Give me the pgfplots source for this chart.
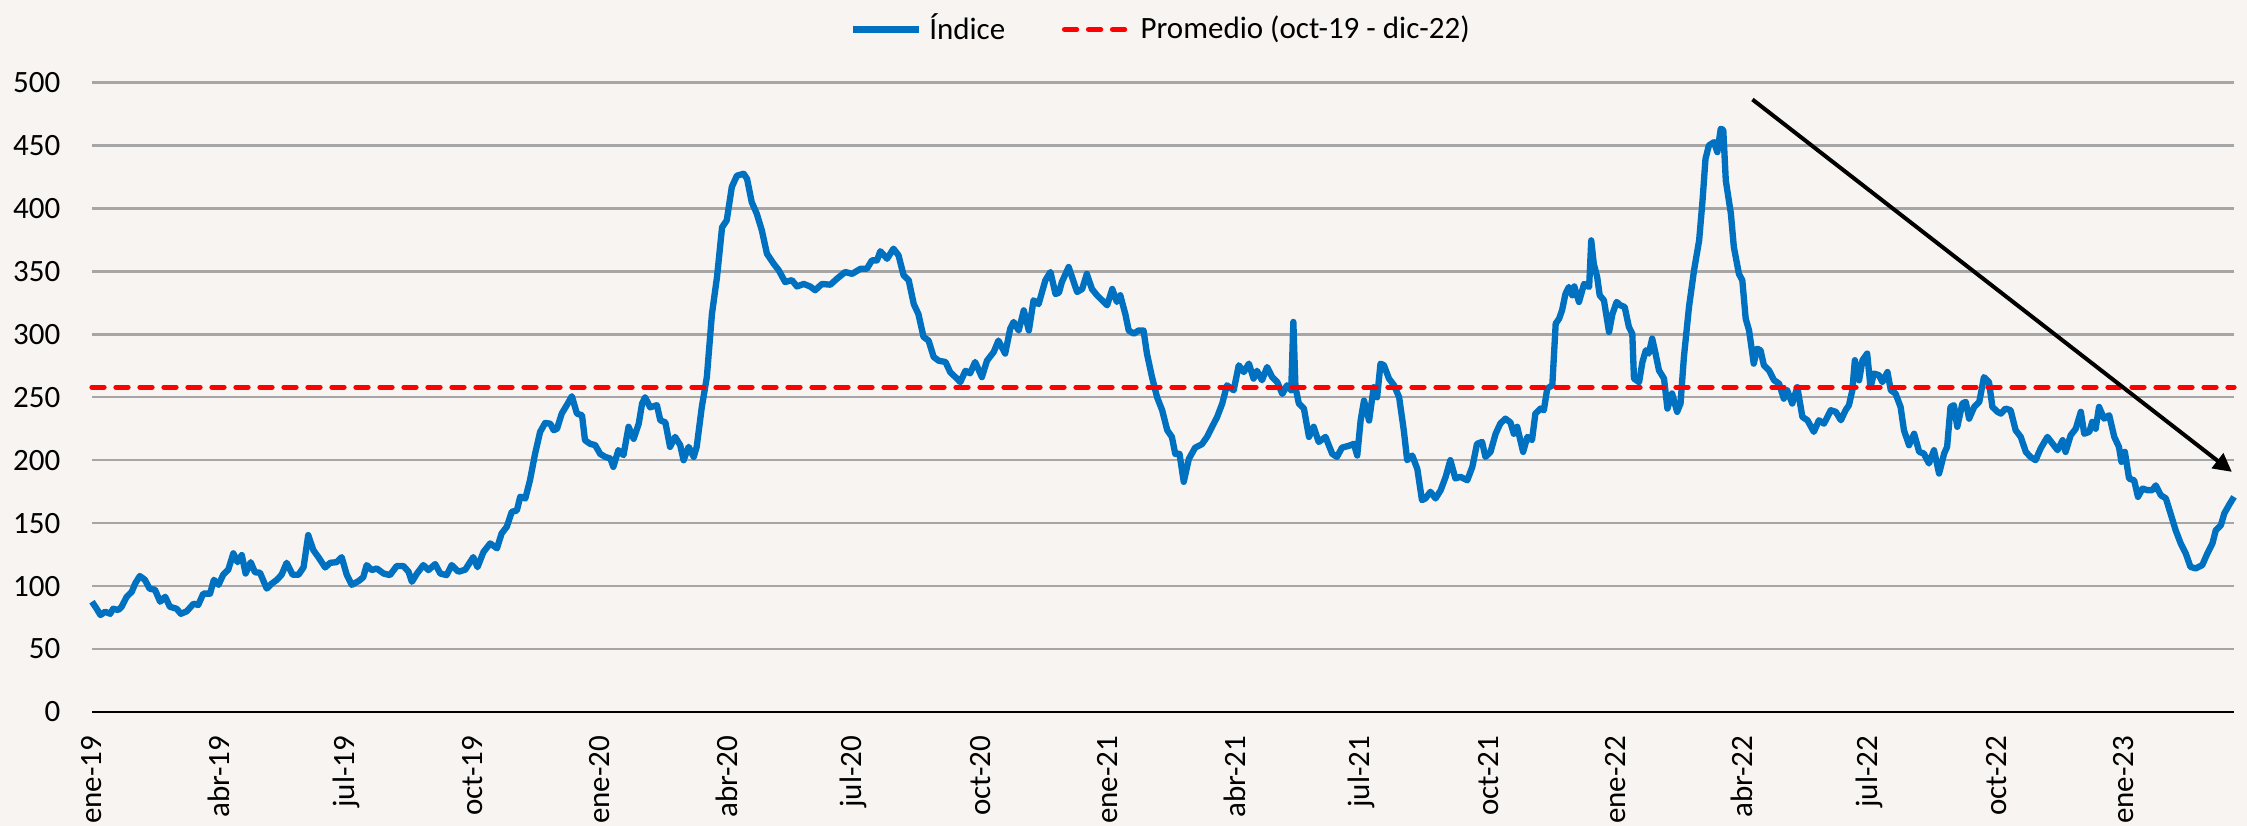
\documentclass[border=0pt]{standalone}
\usepackage{fontspec}
\setmainfont{Carlito}
\usepackage{pgfplots}
\usepackage{pgfplotstable}
\pgfplotsset{compat=1.18}
\usetikzlibrary{arrows.meta}
\definecolor{bgcol}{HTML}{F7F4F1}
\definecolor{gridcol}{HTML}{A6A6A6}
\definecolor{lineblue}{HTML}{0070C0}
\definecolor{avgred}{HTML}{FF0000}
\pgfplotstableread{
m v
0.00 87.6
0.11 82
0.20 77
0.31 79.6
0.43 78
0.50 82
0.62 81
0.70 83.6
0.82 91.5
0.94 95.5
1.02 102
1.13 108
1.25 105
1.36 98
1.49 97
1.61 87.6
1.73 91.5
1.84 83.6
2.00 82
2.10 78
2.24 80
2.40 86
2.51 85
2.63 94
2.79 94
2.88 105
2.99 101
3.10 109
3.22 113
3.34 126
3.44 119
3.54 124.6
3.63 110
3.75 119
3.85 111
3.97 110.6
4.13 98
4.25 102
4.37 105
4.48 109
4.60 118.5
4.74 109
4.88 109
5.00 115
5.11 140.5
5.23 128.6
5.35 123
5.51 114.8
5.63 118.5
5.78 119
5.90 123
6.02 109
6.14 101
6.30 104
6.41 107
6.49 116.7
6.61 112.7
6.73 114
6.89 110
7.04 108.7
7.20 115.9
7.36 115.9
7.48 111.4
7.56 103.4
7.68 110
7.83 116.7
7.95 112.7
8.11 117.5
8.23 110
8.38 108.7
8.50 116.7
8.66 111.4
8.82 113
9.01 123
9.11 115
9.25 127
9.41 133.9
9.57 130
9.68 141.8
9.80 147
9.92 159
10.04 160
10.12 171
10.24 169.6
10.35 184
10.47 205
10.59 222.5
10.71 229.6
10.83 229
10.91 223.8
10.99 225
11.10 237
11.22 243.7
11.34 250.8
11.46 237
11.58 235.7
11.65 215.9
11.77 213
11.89 212
12.01 205
12.13 202.6
12.25 201.3
12.32 194.7
12.44 208
12.56 204
12.68 226.5
12.80 217
12.92 229
13.00 245
13.07 250
13.19 242
13.35 243.7
13.43 231.7
13.55 230
13.66 210.6
13.78 218.5
13.90 212
13.98 200
14.10 210.6
14.22 202.6
14.29 210.6
14.41 242
14.53 266
14.65 316
14.77 345.5
14.89 385
15.00 390.5
15.12 417
15.24 426
15.40 427.5
15.48 423.5
15.59 405
15.71 395.8
15.83 382.5
15.95 364
16.11 356
16.23 350.8
16.38 341.5
16.54 343
16.66 338
16.82 340
16.97 338
17.09 335
17.25 340
17.45 339.4
17.60 344
17.80 349.5
17.96 348
18.16 352
18.31 352
18.43 358.7
18.55 358.7
18.63 366
18.79 360
18.94 368
19.06 362.7
19.18 346.8
19.30 343
19.42 324
19.53 316
19.65 298
19.77 295
19.89 282
20.01 279
20.17 278
20.28 270
20.44 264.8
20.52 262
20.64 271
20.75 269
20.87 278
21.03 266
21.15 279
21.31 286
21.42 295
21.58 284.7
21.70 304.5
21.78 309.8
21.90 303
22.02 319
22.14 303
22.25 327
22.37 324
22.53 342.9
22.65 349.5
22.77 332
22.85 333
22.92 341.5
23.08 353.4
23.20 341.5
23.28 333.6
23.40 336
23.51 348
23.63 336
23.75 331
23.87 327
23.99 323
24.11 336
24.22 325.7
24.30 331
24.42 316
24.50 303
24.62 300.5
24.73 303
24.85 303
24.93 284.7
25.05 266
25.17 250
25.29 239.7
25.41 223.8
25.52 218.5
25.60 205
25.70 205
25.80 182.8
25.92 201
26.07 210
26.23 212.7
26.35 218.5
26.47 226.5
26.59 234.4
26.71 245
26.82 259.5
26.98 255.5
27.10 275.4
27.22 270
27.34 276.7
27.45 264.8
27.53 271
27.65 263.5
27.77 274
27.89 266
28.01 262
28.13 252.6
28.24 259.5
28.34 255.5
28.39 309.8
28.44 258
28.52 245
28.64 241
28.76 218.5
28.87 226.5
28.99 214.5
29.15 218.5
29.31 205
29.42 202.6
29.54 210
29.70 211.4
29.82 213
29.90 203.7
29.98 231.5
30.06 247.4
30.18 231.5
30.29 258
30.37 250
30.45 276.7
30.53 275.4
30.65 264.8
30.77 259.5
30.89 250
31.00 223.8
31.08 200
31.20 203.7
31.32 193
31.43 168.3
31.51 169.6
31.63 174.9
31.75 169.6
31.87 176
31.99 186.8
32.10 200
32.22 185.5
32.34 186.8
32.50 184
32.62 194.7
32.73 213
32.85 214.5
32.93 202.6
33.05 206.6
33.17 221
33.28 229
33.40 233
33.52 230
33.60 221
33.68 226.5
33.82 206.6
33.92 218.5
34.03 216
34.11 237
34.23 241
34.31 239.7
34.39 256.9
34.51 259.5
34.59 308.5
34.67 312.4
34.74 319
34.82 332
34.90 337.6
34.98 331
35.03 338
35.14 325.7
35.26 340
35.38 337.6
35.43 374.6
35.49 356
35.57 345.5
35.63 331
35.73 327
35.85 301.9
35.93 316
36.03 325.7
36.12 323
36.22 321.7
36.32 305.8
36.40 300.5
36.44 264.8
36.56 262
36.64 278
36.72 287.3
36.79 284.7
36.87 296.6
36.95 284.7
37.03 271.4
37.15 264.8
37.23 241
37.34 253
37.46 238.4
37.54 245
37.62 282
37.74 321.7
37.86 351
37.98 374.6
38.06 406.3
38.13 439.4
38.21 450
38.33 452.6
38.41 444.7
38.49 463.2
38.55 462.4
38.61 422
38.73 395.8
38.80 369.3
38.92 348
39.00 342.9
39.08 312.4
39.16 303
39.27 276.7
39.35 288.6
39.43 287.3
39.51 275.4
39.63 271.4
39.75 263.5
39.87 260.8
39.98 248.9
40.06 255.5
40.18 245
40.30 258
40.42 234.4
40.54 231.7
40.69 222.5
40.81 231.7
40.93 229
41.09 239.7
41.21 238.4
41.33 231.7
41.44 239.7
41.52 243.7
41.60 255.5
41.66 279.4
41.76 263.5
41.84 279.4
41.95 284.7
42.03 258
42.11 268.8
42.23 267.5
42.31 262
42.43 270
42.51 255.5
42.62 253
42.74 242.3
42.82 223.8
42.94 211.9
43.06 221
43.18 206.6
43.29 205.3
43.41 197.4
43.53 207.9
43.65 189.4
43.77 205.3
43.84 210.6
43.92 242.3
44.00 243.7
44.08 226.5
44.20 245
44.28 246.3
44.36 233
44.48 242.3
44.60 246.3
44.71 266
44.83 262
44.91 242.3
45.03 238.4
45.11 237
45.22 241
45.34 239.7
45.46 223.8
45.58 218.5
45.70 206.6
45.81 202.6
45.93 200
46.05 209.3
46.21 218.5
46.33 213.2
46.45 208
46.57 215.9
46.64 206.6
46.76 219.8
46.88 225
47.00 238.4
47.08 221
47.20 222.5
47.27 230.4
47.35 225
47.43 242.3
47.55 233
47.67 235.7
47.79 218.5
47.90 210.6
47.96 198.7
48.04 206.6
48.14 185.4
48.26 184
48.35 170.9
48.46 177.5
48.57 176.2
48.69 176.2
48.77 180
48.89 172.2
49.01 169.6
49.12 157.7
49.24 144.4
49.36 133.9
49.48 125.9
49.59 115.3
49.71 114
49.87 116.7
49.99 125.9
50.11 133.9
50.19 144.4
50.31 148.4
50.39 157.7
50.50 164.3
50.62 170.9
}\indice
\begin{document}
\begin{tikzpicture}
\fill[bgcol] (0,0) rectangle (674.1pt,247.8pt);
\begin{axis}[
  at={(27.6pt,34.2pt)}, anchor=south west,
  scale only axis, width=642.6pt, height=188.85pt,
  xmin=0, xmax=50.62, ymin=0, ymax=500,
  axis line style={draw=none},
  major tick length=0pt,
  ytick={0,50,...,500},
  xtick={0,3,...,48},
  xticklabels={ene-19,abr-19,jul-19,oct-19,ene-20,abr-20,jul-20,oct-20,ene-21,abr-21,jul-21,oct-21,ene-22,abr-22,jul-22,oct-22,ene-23},
  ymajorgrids, grid style={gridcol, line width=0.75pt},
  tick label style={font=\fontsize{9.3}{11}\selectfont, text=black},
  /pgf/number format/assume math mode=true,
  yticklabel shift=6pt,
  xticklabel shift=3.6pt,
  xticklabel style={rotate=90, anchor=east},
  legend style={at={(0.5,1)}, anchor=center, yshift=15.9pt, draw=none, fill=none,
    font=\fontsize{9.3}{11}\selectfont, legend columns=-1,
    /tikz/every even column/.append style={column sep=15pt}},
  legend image code/.code={\draw[#1] (0pt,0pt) -- (20pt,0pt);},
  clip=false,
]
\addplot[lineblue, line width=1.9pt, line join=round] table[x=m,y=v]{\indice};
\addlegendentry{Índice}
\addplot[avgred, line width=1.6pt, dash pattern=on 3.6pt off 3.6pt, line cap=round] coordinates {(0,258) (50.62,258)};
\addlegendentry{Promedio (oct-19 - dic-22)}
\draw[black, line width=0.85pt] (rel axis cs:0,0) -- (rel axis cs:1,0);
\draw[black, line width=1.2pt, -{Triangle[length=5.5pt,width=5.5pt]}] (axis cs:39.24,486.5) -- (axis cs:50.57,190.7);
\end{axis}
\pgfresetboundingbox
\path[use as bounding box] (0,0) rectangle (674.1pt,247.8pt);
\end{tikzpicture}
\end{document}
